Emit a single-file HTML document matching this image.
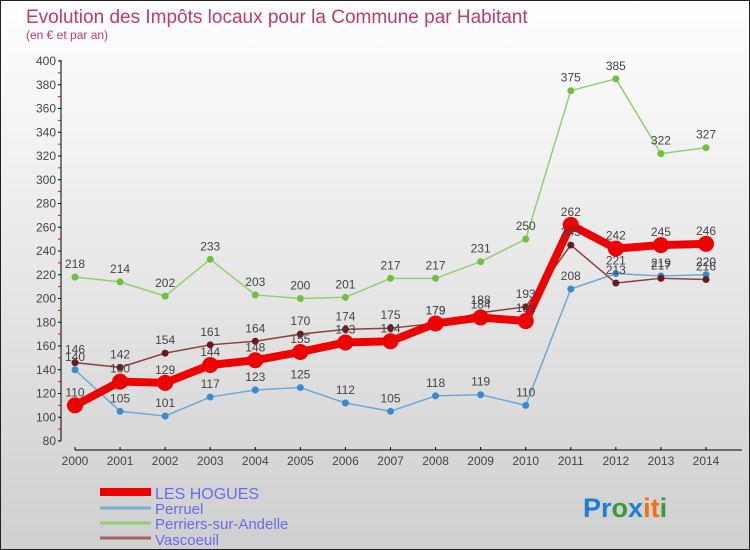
<!DOCTYPE html>
<html><head><meta charset="utf-8"><style>
body{margin:0;width:750px;height:550px;overflow:hidden;font-family:"Liberation Sans",sans-serif}
svg{display:block}
</style></head><body>
<svg id="chart" width="750" height="550" xmlns="http://www.w3.org/2000/svg">
<defs><linearGradient id="bg" x1="0" y1="0" x2="0" y2="1"><stop offset="0" stop-color="#ffffff"/><stop offset="1" stop-color="#cfcfcf"/></linearGradient></defs>
<rect x="0.5" y="0.5" width="749" height="549" fill="url(#bg)" stroke="#222"/>
<text x="26" y="23" font-size="19" fill="#c03a6a">Evolution des Impôts locaux pour la Commune par Habitant</text>
<text x="26" y="39" font-size="12" fill="#c03a6a">(en € et par an)</text>
<g id="axes"></g><g id="series"></g><g id="labels"></g>
<g>
<line x1="100" y1="492" x2="151" y2="492" stroke="#e00" stroke-width="8"/>
<text x="155" y="499" font-size="16" fill="#6b6bea">LES HOGUES</text>
<line x1="100" y1="508" x2="151" y2="508" stroke="#7aaed0" stroke-width="3"/>
<text x="155" y="514" font-size="15" fill="#6b6bea">Perruel</text>
<line x1="100" y1="523" x2="151" y2="523" stroke="#90d070" stroke-width="3"/>
<text x="155" y="529" font-size="15" fill="#6b6bea">Perriers-sur-Andelle</text>
<line x1="100" y1="538" x2="151" y2="538" stroke="#a06060" stroke-width="3"/>
<text x="155" y="545" font-size="15" fill="#6b6bea">Vascoeuil</text>
</g>
<text x="583" y="517" font-size="27" font-weight="bold"><tspan fill="#1a7fd8">Pr</tspan><tspan fill="#3a9a3a">o</tspan><tspan fill="#1a7fd8">x</tspan><tspan fill="#f07010">i</tspan><tspan fill="#f07010">t</tspan><tspan fill="#3a9a3a">i</tspan></text>
</svg>
<script>
const years=[2000,2001,2002,2003,2004,2005,2006,2007,2008,2009,2010,2011,2012,2013,2014];
const lesHogues=[110,130,129,144,148,155,163,164,179,184,181,262,242,245,246];
const perruel=[140,105,101,117,123,125,112,105,118,119,110,208,221,219,220];
const perriers=[218,214,202,233,203,200,201,217,217,231,250,375,385,322,327];
const vascoeuil=[146,142,154,161,164,170,174,175,179,188,193,245,213,217,216];
const yTicks=[80,100,120,140,160,180,200,220,240,260,280,300,320,340,360,380,400];
const NS="http://www.w3.org/2000/svg";
const x=i=>75+i*(706-75)/(years.length-1);
const y=v=>441-(v-80)*380/320;
function mk(tag,attrs,parent){const e=document.createElementNS(NS,tag);for(const k in attrs)e.setAttribute(k,attrs[k]);parent.appendChild(e);return e;}
const ax=document.getElementById('axes');
let l=mk('line',{x1:61,y1:60,x2:61,y2:441,stroke:'#000'},ax);


yTicks.forEach(t=>{
  mk('line',{x1:58,y1:y(t),x2:61,y2:y(t),stroke:'#000'},ax);
  if(t<400) mk('line',{x1:58,y1:y(t+10),x2:61,y2:y(t+10),stroke:'#e00'},ax);
  const tx=mk('text',{x:56,y:y(t)+4,'font-size':12,fill:'#444','text-anchor':'end'},ax);
  tx.textContent=t;
  
  
});
l=mk('line',{x1:75,y1:450,x2:742,y2:450,stroke:'#000'},ax);


years.forEach((yr,i)=>{
  mk('line',{x1:x(i),y1:447,x2:x(i),y2:450,stroke:'#000'},ax);
  const tx=mk('text',{x:x(i),y:465,'font-size':12,fill:'#444','text-anchor':'middle'},ax);
  tx.textContent=yr;
  
  
});
const sg=document.getElementById('series'),lg=document.getElementById('labels');
const defs=[
 ['perriers',perriers,'#90d070','#70c040',1.5,3.5],
 ['perruel',perruel,'#6aa8d8','#3a8ad0',1.5,3.5],
 ['vascoeuil',vascoeuil,'#8a4040','#6a1a1a',1.5,3.5],
 ['les-hogues',lesHogues,'#ee0000','#ee0000',8,8]
];
defs.forEach(([name,data,lc,pc,w,r])=>{
  const p=mk('polyline',{points:data.map((v,i)=>x(i)+','+y(v)).join(' '),fill:'none',stroke:lc,'stroke-width':w,'stroke-linejoin':'round'},sg);
  
  
  data.forEach((v,i)=>{
    const c=mk('circle',{cx:x(i),cy:y(v),r:r,fill:pc},sg);
    
    
    const t=mk('text',{x:x(i),y:y(v)-9,'font-size':12,fill:'#444','text-anchor':'middle'},lg);
    t.textContent=v;
    
    
  });
});
</script>
</body></html>
